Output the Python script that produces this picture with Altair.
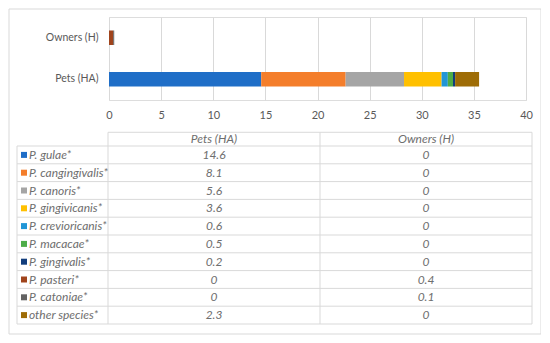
import altair as alt
import pandas as pd

# ---- data ----
species = ["P. gulae*", "P. cangingivalis*", "P. canoris*", "P. gingivicanis*",
           "P. crevioricanis*", "P. macacae*", "P. gingivalis*", "P. pasteri*",
           "P. catoniae*", "other species*"]
colors = ["#1F6EC7", "#F47E2B", "#A5A5A5", "#FFC000", "#2196D6",
          "#4EAD48", "#123D7C", "#A0441C", "#636363", "#9E6C06"]
groups = ["Pets (HA)", "Owners (H)"]
pets = [14.6, 8.1, 5.6, 3.6, 0.6, 0.5, 0.2, 0, 0, 2.3]
owners = [0, 0, 0, 0, 0, 0, 0, 0.4, 0.1, 0]
x_ticks = [0, 5, 10, 15, 20, 25, 30, 35, 40]

rows = []
for i, s in enumerate(species):
    for gi, (g, vals) in enumerate(zip(groups, [pets, owners])):
        rows.append({"species": s, "idx": i, "group": g, "gi": gi,
                     "value": vals[i], "label": f"{vals[i]:g}"})
df = pd.DataFrame(rows)
sp_df = pd.DataFrame({"species": species, "idx": list(range(len(species)))})
hdr_df = pd.DataFrame({"group": groups, "gi": [0, 1]})
hline_df = pd.DataFrame({"k": list(range(len(species) + 1))})
vline_df = pd.DataFrame({"e": [0, 1, 2]})

FONT = "Lato"
GRID = "#D9D9D9"
TXT = "#595959"
TTXT = "#6E6E6E"

color = alt.Color("species:N", scale=alt.Scale(domain=species, range=colors), legend=None)
col_scale = alt.Scale(domain=[0, 2], range=[-1, 423])
row_scale = alt.Scale(domain=[0, 10], range=[129, 307])

bars = alt.Chart(df).mark_bar().encode(
    x=alt.X("value:Q", stack="zero", scale=alt.Scale(domain=[0, 40], nice=False),
            axis=alt.Axis(values=x_ticks, title=None, grid=True, gridColor=GRID,
                          domain=False, ticks=False, labelPadding=9, labelFlush=False,
                          labelColor=TXT, labelFontSize=11, labelFont=FONT)),
    y=alt.Y("group:N", sort=["Owners (H)", "Pets (HA)"],
            scale=alt.Scale(paddingInner=0.65, paddingOuter=0.325),
            axis=alt.Axis(title=None, domain=False, ticks=False, labelPadding=11,
                          labelColor=TXT, labelFontSize=10.5, labelFont=FONT)),
    color=color,
    order=alt.Order("idx:Q"),
)

frame = alt.Chart(pd.DataFrame({"f": [0]})).mark_rect(
    fillOpacity=0, stroke=GRID, strokeWidth=1).encode(
    x=alt.value(-100), x2=alt.value(432), y=alt.value(-8), y2=alt.value(317))

hlines = alt.Chart(hline_df).mark_rule(color=GRID, strokeWidth=1).encode(
    y=alt.Y("k:Q", scale=row_scale, axis=None),
    x=alt.value(-92), x2=alt.value(423))

hdr_top = alt.Chart(pd.DataFrame({"k": [-0.77]})).mark_rule(color=GRID, strokeWidth=1).encode(
    y=alt.Y("k:Q", scale=row_scale, axis=None),
    x=alt.value(-1), x2=alt.value(423))

vlines = alt.Chart(vline_df).mark_rule(color=GRID, strokeWidth=1).encode(
    x=alt.X("e:Q", scale=col_scale, axis=None),
    y=alt.value(115.3), y2=alt.value(307))

vleft = alt.Chart(pd.DataFrame({"f": [0]})).mark_rule(color=GRID, strokeWidth=1).encode(
    x=alt.value(-92), y=alt.value(129), y2=alt.value(307))

header = alt.Chart(hdr_df).transform_calculate(
    colc="datum.gi + 0.5", rowc="-0.385").mark_text(
    font=FONT, fontStyle="italic", fontSize=12, color=TTXT, baseline="middle").encode(
    x=alt.X("colc:Q", scale=col_scale, axis=None),
    y=alt.Y("rowc:Q", scale=row_scale, axis=None),
    text="group:N")

cells = alt.Chart(df).transform_calculate(
    colc="datum.gi + 0.5", rowc="datum.idx + 0.5").mark_text(
    font=FONT, fontStyle="italic", fontSize=12, color=TTXT, baseline="middle").encode(
    x=alt.X("colc:Q", scale=col_scale, axis=None),
    y=alt.Y("rowc:Q", scale=row_scale, axis=None),
    text="label:N")

swatches = alt.Chart(sp_df).transform_calculate(rowc="datum.idx + 0.5").mark_square(
    size=36, opacity=1).encode(
    x=alt.value(-85),
    y=alt.Y("rowc:Q", scale=row_scale, axis=None),
    color=color)

labels = alt.Chart(sp_df).transform_calculate(rowc="datum.idx + 0.5").mark_text(
    font=FONT, fontStyle="italic", fontSize=12, color=TTXT, align="left",
    baseline="middle").encode(
    x=alt.value(-80),
    y=alt.Y("rowc:Q", scale=row_scale, axis=None),
    text="species:N")

chart = alt.layer(
    frame, hlines, hdr_top, vlines, vleft, bars, header, cells, swatches, labels
).resolve_scale(x="independent", y="independent").properties(
    width=417, height=83,
    autosize=alt.AutoSizeParams(type="none"),
    padding={"left": 101, "top": 9, "right": 15, "bottom": 235},
).configure_view(stroke=None).configure(background="white")

chart.save("out.html", embed_options={"renderer": "svg", "actions": False})
